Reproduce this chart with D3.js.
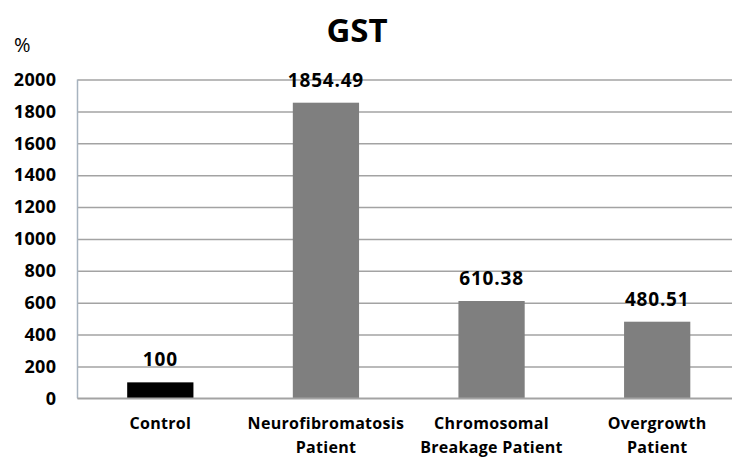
<!DOCTYPE html>
<html>
<head>
<meta charset="utf-8">
<script src="https://cdn.jsdelivr.net/npm/d3@7"></script>
<style>
  body { margin: 0; background: #fff; }
  text { font-family: "Open Sans", sans-serif; fill: #000; }
</style>
</head>
<body>
<div id="chart"></div>
<script>
const F_WIDTH = 732;
const F_HEIGHT = 457;
const MARGINS = {left: 77.5, top: 79.5, bottom: 58.7};

// data
const CATEGORIES = ["Control", "Neurofibromatosis Patient", "Chromosomal Breakage Patient", "Overgrowth Patient"];
const CAT_LINES = [["Control"], ["Neurofibromatosis", "Patient"], ["Chromosomal", "Breakage Patient"], ["Overgrowth", "Patient"]];
const VALUES = [100, 1854.49, 610.38, 480.51];
const VALUE_LABELS = ["100", "1854.49", "610.38", "480.51"];
const BAR_COLORS = ["#000000", "#7f7f7f", "#7f7f7f", "#7f7f7f"];
const Y_TICKS = [0, 200, 400, 600, 800, 1000, 1200, 1400, 1600, 1800, 2000];

const VIS_HEIGHT = F_HEIGHT - MARGINS.top - MARGINS.bottom;

const FRAME = d3.select("#chart")
  .append("svg")
    .attr("width", F_WIDTH)
    .attr("height", F_HEIGHT);

// chart area runs a bit past the right edge (cropped in the original)
const X_SCALE = d3.scaleBand()
  .domain(CATEGORIES)
  .range([MARGINS.left, 740])
  .paddingInner(0.6)
  .paddingOuter(0.3);

const Y_SCALE = d3.scaleLinear()
  .domain([0, 2000])
  .range([MARGINS.top + VIS_HEIGHT, MARGINS.top]);

// gridlines + tick labels
const yAxis = FRAME.append("g")
  .attr("transform", "translate(" + MARGINS.left + ",0)")
  .call(d3.axisLeft(Y_SCALE)
    .tickValues(Y_TICKS)
    .tickFormat(d3.format("d"))
    .tickSize(-(F_WIDTH - MARGINS.left))
    .tickPadding(21));

yAxis.select(".domain").remove();
yAxis.selectAll(".tick line")
  .attr("stroke", "#a3a3a3")
  .attr("stroke-width", 1.5);
yAxis.selectAll(".tick text")
  .style("font-size", "18px")
  .style("font-weight", "bold")
  .attr("letter-spacing", "0.4px")
  .attr("fill", "#000");

// vertical axis line
FRAME.append("line")
  .attr("x1", MARGINS.left).attr("x2", MARGINS.left)
  .attr("y1", Y_SCALE(2000)).attr("y2", Y_SCALE(0))
  .attr("stroke", "#a7b3bf")
  .attr("stroke-width", 1.5);

// bars
FRAME.append("g")
  .selectAll("rect")
  .data(VALUES)
  .enter()
  .append("rect")
    .attr("x", (d, i) => X_SCALE(CATEGORIES[i]))
    .attr("y", (d) => Y_SCALE(d))
    .attr("width", X_SCALE.bandwidth())
    .attr("height", (d) => Y_SCALE(0) - Y_SCALE(d))
    .attr("fill", (d, i) => BAR_COLORS[i]);

// zero line drawn on top
FRAME.append("line")
  .attr("x1", MARGINS.left).attr("x2", F_WIDTH)
  .attr("y1", Y_SCALE(0)).attr("y2", Y_SCALE(0))
  .attr("stroke", "#a3a3a3")
  .attr("stroke-width", 1.5);

// value labels
FRAME.append("g")
  .selectAll("text")
  .data(VALUES)
  .enter()
  .append("text")
    .attr("x", (d, i) => X_SCALE(CATEGORIES[i]) + X_SCALE.bandwidth() / 2)
    .attr("y", (d) => Y_SCALE(d) - 16)
    .attr("text-anchor", "middle")
    .attr("letter-spacing", "0.8px")
    .style("font-size", "19px")
    .style("font-weight", "bold")
    .text((d, i) => VALUE_LABELS[i]);

// category labels
const catLabels = FRAME.append("g")
  .selectAll("text")
  .data(CATEGORIES)
  .enter()
  .append("text")
    .attr("x", (d) => X_SCALE(d) + X_SCALE.bandwidth() / 2)
    .attr("y", 429)
    .attr("text-anchor", "middle")
    .attr("letter-spacing", "0.3px")
    .style("font-size", "16px")
    .style("font-weight", "bold");

catLabels.each(function(d, i) {
  const t = d3.select(this);
  CAT_LINES[i].forEach((line, j) => {
    t.append("tspan")
      .attr("x", X_SCALE(d) + X_SCALE.bandwidth() / 2)
      .attr("dy", j === 0 ? 0 : 24)
      .text(line);
  });
});

// title
FRAME.append("text")
  .attr("x", 357)
  .attr("y", 42)
  .attr("text-anchor", "middle")
  .style("font-size", "33px")
  .style("font-weight", "bold")
  .text("GST");

// unit label
FRAME.append("text")
  .attr("x", 14)
  .attr("y", 52)
  .style("font-size", "20px")
  .text("%");
</script>
</body>
</html>
